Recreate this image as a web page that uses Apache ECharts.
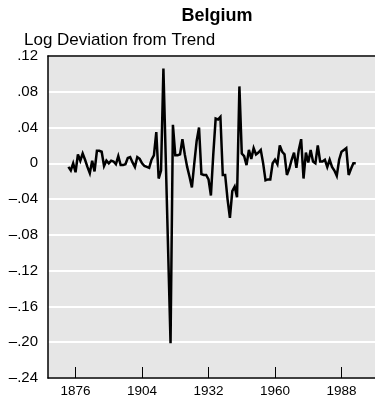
<!DOCTYPE html>
<html>
<head>
<meta charset="utf-8">
<script src="https://cdn.jsdelivr.net/npm/echarts@6/dist/echarts.min.js"></script>
<style>
html,body{margin:0;padding:0;background:#fff;}
#c{width:375px;height:407px;}
</style>
</head>
<body>
<div id="c"></div>
<script>
const titleText = 'Belgium';
const subtitleText = 'Log Deviation from Trend';

// 1873-1913
const years1 = [1873,1874,1875,1876,1877,1878,1879,1880,1881,1882,1883,1884,1885,1886,1887,1888,1889,1890,1891,1892,1893,1894,1895,1896,1897,1898,1899,1900,1901,1902,1903,1904,1905,1906,1907,1908,1909,1910,1911,1912,1913];
const values1 = [-0.004,-0.008,0.000,-0.010,0.010,0.003,0.011,0.004,-0.004,-0.011,0.003,-0.009,0.014,0.014,0.013,-0.003,0.003,0.000,0.003,0.002,-0.001,0.008,-0.002,-0.002,-0.001,0.006,0.007,0.001,-0.004,0.007,0.005,0.000,-0.003,-0.004,-0.005,0.004,0.009,0.035,-0.017,-0.008,0.106];

// 1916-1945
const years2 = [1916,1917,1918,1919,1920,1921,1922,1923,1924,1925,1926,1927,1928,1929,1930,1931,1932,1933,1934,1935,1936,1937,1938,1939,1940,1941,1942,1943,1944,1945];
const values2 = [-0.201,0.043,0.009,0.009,0.010,0.027,0.010,-0.004,-0.015,-0.027,0.000,0.025,0.040,-0.012,-0.013,-0.013,-0.018,-0.036,0.010,0.050,0.049,0.052,-0.013,-0.013,-0.040,-0.061,-0.031,-0.026,-0.038,0.086];

// 1946-1994
const years3 = [1946,1947,1948,1949,1950,1951,1952,1953,1954,1955,1956,1957,1958,1959,1960,1961,1962,1963,1964,1965,1966,1967,1968,1969,1970,1971,1972,1973,1974,1975,1976,1977,1978,1979,1980,1981,1982,1983,1984,1985,1986,1987,1988,1989,1990,1991,1992,1993,1994];
const values3 = [0.011,0.008,-0.002,0.015,0.005,0.017,0.010,0.012,0.015,0.000,-0.019,-0.018,-0.018,0.000,0.004,-0.001,0.020,0.013,0.010,-0.013,-0.006,0.004,0.012,-0.005,0.015,0.027,-0.017,0.012,0.001,0.015,0.002,0.000,0.020,0.002,0.002,0.004,-0.004,0.004,-0.004,-0.008,-0.014,0.004,0.013,0.015,0.017,-0.013,-0.006,0.000,0.000];

const xTickValues = [1876,1904,1932,1960,1988];
const yTickValues = [-0.24,-0.20,-0.16,-0.12,-0.08,-0.04,0,0.04,0.08,0.12];
const yTickLabels = ['\u2013.24','\u2013.20','\u2013.16','\u2013.12','\u2013.08','\u2013.04','0','.04','.08','.12'];

const seriesData = [];
years1.forEach((y,i)=>seriesData.push([y, values1[i]]));
years2.forEach((y,i)=>seriesData.push([y, values2[i]]));
years3.forEach((y,i)=>seriesData.push([y, values3[i]]));

const FONT = '"Liberation Sans", Arial, Helvetica, sans-serif';
const chart = echarts.init(document.getElementById('c'), null, {renderer:'canvas'});
chart.setOption({
  animation: false,
  backgroundColor: '#ffffff',
  title: [
    {text: titleText, left: 212, top: 2, textAlign: 'center',
     textStyle:{fontFamily: FONT, fontWeight:'bold', fontSize:18, color:'#000'}},
    {text: subtitleText, left: 19, top: 27,
     textStyle:{fontFamily: FONT, fontWeight:'normal', fontSize:17, color:'#000'}}
  ],
  grid: {left:48, right:-2, top:56, bottom:29, show:true, backgroundColor:'#e6e6e6', borderWidth:0},
  xAxis: [{
    type:'value', min:1864.4, max:2002.1, position:'bottom',
    axisLine:{show:true, onZero:false, lineStyle:{color:'#000', width:1.5}},
    axisTick:{show:true, inside:true, length:11, customValues: xTickValues, lineStyle:{color:'#000', width:1}},
    axisLabel:{show:true, customValues: xTickValues, margin:6, fontFamily:FONT, fontSize:13.5, color:'#000',
      formatter: v => String(Math.round(v))},
    splitLine:{show:false}
  }, {
    type:'value', min:1864.4, max:2002.1, position:'top',
    axisLine:{show:true, onZero:false, lineStyle:{color:'#000', width:1.5}},
    axisTick:{show:false}, axisLabel:{show:false}, splitLine:{show:false}
  }],
  yAxis: {
    type:'value', min:-0.24, max:0.12, interval:0.04,
    axisLine:{show:true, lineStyle:{color:'#000', width:1.5}},
    axisTick:{show:false},
    axisLabel:{show:true, margin:10, fontFamily:FONT, fontSize:15, color:'#000',
      formatter: v => { const k = yTickValues.findIndex(t => Math.abs(t - v) < 1e-6); return k >= 0 ? yTickLabels[k] : ''; }},
    splitLine:{show:true, lineStyle:{color:'#ffffff', width:2}}
  },
  series: [{
    type:'line', xAxisIndex:0, data: seriesData, showSymbol:false, symbol:'none',
    lineStyle:{color:'#000', width:2.5, join:'miter', miterLimit:4},
    z:5
  }]
});
</script>
</body>
</html>
